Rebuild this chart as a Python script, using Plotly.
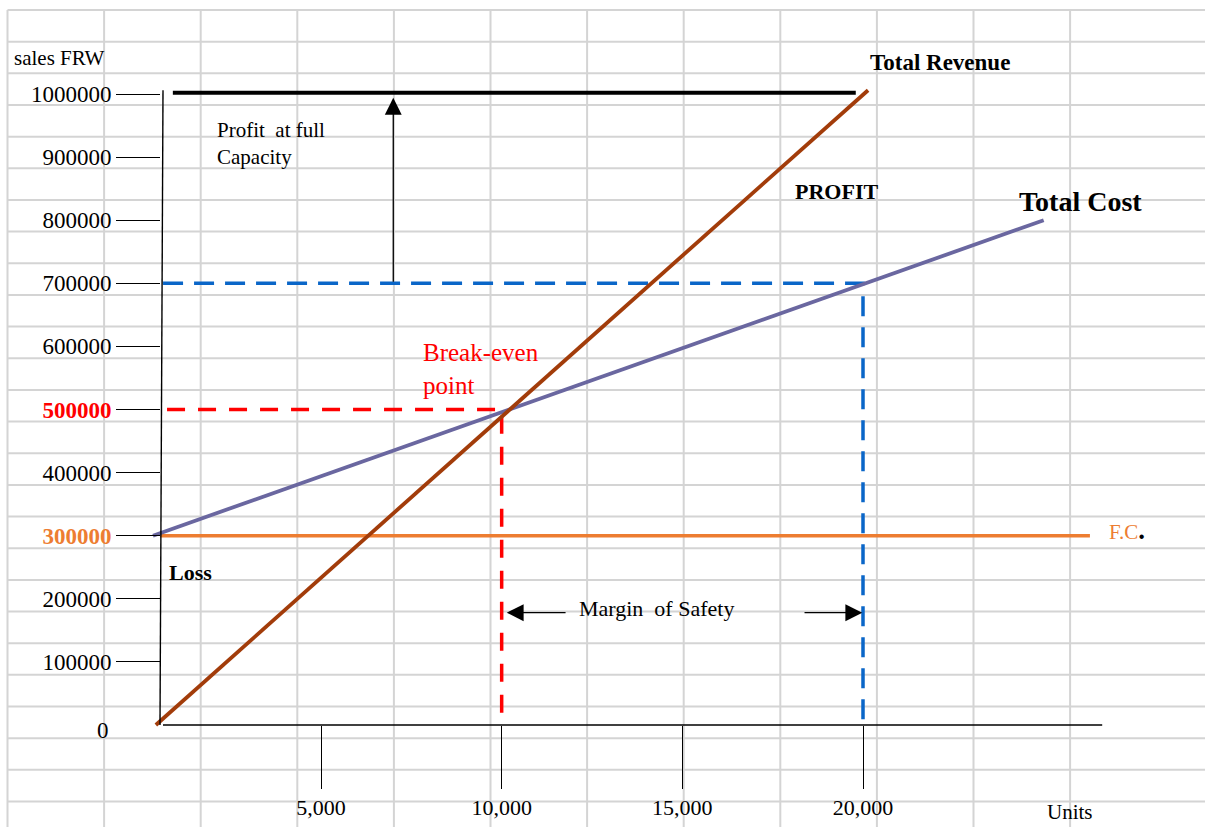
import plotly.graph_objects as go

W, H = 1205, 827
FONT = "Liberation Serif"

# ---- break-even data (units sold vs. FRW) ----
revenue_units = [430, 20140]
revenue_frw = [0, 1006000]

cost_units = [350, 25000]
cost_frw = [300000, 800000]

fixed_units = [549, 26280]
fixed_frw = [300000, 300000]

capacity_units = [900, 19800]
capacity_frw = [1002000, 1002000]

breakeven_units = 10000
breakeven_frw = 500000
full_units = 20000
full_cost_frw = 700000

profit_arrow_units = 7000
safety_arrow_frw = 178000

# ---- axis ticks ----
y_ticks = [100000, 200000, 300000, 400000, 500000, 600000, 700000, 800000, 900000, 1000000]
y_tick_text = ["100000", "200000",
               "<b><span style='color:#ED7D31'>300000</span></b>",
               "400000",
               "<b><span style='color:#FF0000'>500000</span></b>",
               "600000", "700000", "800000", "900000", "1000000"]
x_ticks = [5000, 10000, 15000, 20000]
x_tick_text = ["5,000", "10,000", "15,000", "20,000"]

# scale: 5,000 units per 180.7 px, 100000 FRW per 63.1 px
X_PER_UNIT = (863 - 321) / 15000
X0_PX = 321 - 5000 * X_PER_UNIT
Y_PER_FRW = (725 - 94) / 1e6
Y0_PX = 725
x_range = [-X0_PX / X_PER_UNIT, (W - X0_PX) / X_PER_UNIT]
y_range = [-(H - Y0_PX) / Y_PER_FRW, Y0_PX / Y_PER_FRW]

YAXIS_PX = 160
axis_left_units = 549
axis_end_units = 26620
axis_top_frw = 1006000

fig = go.Figure()

# spreadsheet cell grid in the background
shapes = []
col_w, row_h = 96.6, 31.66
for k in range(12):
    xp = (7.5 + k * col_w) / W
    shapes.append(dict(type="line", xref="paper", yref="paper", x0=xp, x1=xp,
                       y0=0, y1=1 - 10 / H, line=dict(color="#D4D4D4", width=2), layer="below"))
for k in range(26):
    yp = 1 - (10 + k * row_h) / H
    shapes.append(dict(type="line", xref="paper", yref="paper", x0=7.5 / W, x1=1,
                       y0=yp, y1=yp, line=dict(color="#D4D4D4", width=2), layer="below"))

# drawn axis lines
shapes.append(dict(type="line", xref="paper", yref="y", x0=YAXIS_PX / W, x1=(YAXIS_PX + 3) / W,
                   y0=0, y1=axis_top_frw, line=dict(color="black", width=1.4)))
shapes.append(dict(type="line", xref="x", yref="y", x0=(163 - X0_PX) / X_PER_UNIT, x1=axis_end_units,
                   y0=0, y1=0, line=dict(color="black", width=1.4)))
fig.update_layout(shapes=shapes)

# guide lines for break-even and full capacity
fig.add_trace(go.Scatter(x=[axis_left_units + 190, breakeven_units, breakeven_units],
                         y=[breakeven_frw, breakeven_frw, 0], mode="lines",
                         line=dict(color="#FF0000", width=3.5, dash="18px,13px")))
fig.add_trace(go.Scatter(x=[axis_left_units + 80, full_units, full_units],
                         y=[full_cost_frw, full_cost_frw, 0], mode="lines",
                         line=dict(color="#0A66C8", width=3.5, dash="20px,11px")))

# fixed cost, total cost, total revenue, full capacity
fig.add_trace(go.Scatter(x=fixed_units, y=fixed_frw, mode="lines",
                         line=dict(color="#ED7D31", width=3.5)))
fig.add_trace(go.Scatter(x=cost_units, y=cost_frw, mode="lines",
                         line=dict(color="#6A67A0", width=3.8)))
fig.add_trace(go.Scatter(x=revenue_units, y=revenue_frw, mode="lines",
                         line=dict(color="#A23C0A", width=3.8)))
fig.add_trace(go.Scatter(x=capacity_units, y=capacity_frw, mode="lines",
                         line=dict(color="black", width=4.2)))

ann = []


def label(text, x, y, size, color="black", xanchor="left", yanchor="middle", align="left", **kw):
    ann.append(dict(text=text, x=x, y=y, xref="x", yref="y", showarrow=False,
                    xanchor=xanchor, yanchor=yanchor, align=align,
                    font=dict(family=FONT, size=size, color=color), **kw))


label("sales FRW", -3551, 1057000, 21)
label("Profit\u00a0 at full<br>Capacity", 2062, 921500, 21)
label("<b>PROFIT</b>", 18050, 844700, 22)
label("<b>Total Revenue</b>", 20140, 1050700, 23)
label("<b>Total Cost</b>", 24263, 830400, 28)
label("Break-even<br>point", 7768, 564200, 25, color="#FF0000")
label("<b>Loss</b>", 739, 240900, 22)
label("Margin\u00a0 of Safety", 12085, 185400, 22)
label("F.C<span style='color:black;font-size:27px'><b>.</b></span>", 26754, 309000, 21, color="#ED7D31")
label("Units", 25730, -137900, 21, xanchor="center")
ann.append(dict(text="0", x=111 / W, y=-8000, xref="paper", yref="y", showarrow=False,
                xanchor="right", yanchor="middle", font=dict(family=FONT, size=23, color="black")))

# arrows
arrow = dict(xref="x", yref="y", axref="x", ayref="y", showarrow=True, text="",
             arrowhead=2, arrowsize=2.6, arrowwidth=1.3, arrowcolor="black")
ann.append(dict(arrow, x=profit_arrow_units, y=capacity_frw[0] - 8000,
                ax=profit_arrow_units, ay=full_cost_frw))
ann.append(dict(arrow, x=breakeven_units + 140, y=safety_arrow_frw,
                ax=breakeven_units + 1810, ay=safety_arrow_frw))
ann.append(dict(arrow, x=full_units - 20, y=safety_arrow_frw,
                ax=full_units - 1660, ay=safety_arrow_frw))

fig.update_layout(
    width=W, height=H, margin=dict(l=0, r=0, t=0, b=0),
    paper_bgcolor="white", plot_bgcolor="white", showlegend=False,
    font=dict(family=FONT, color="black"),
    annotations=ann,
    xaxis=dict(range=x_range, domain=[0, 1], anchor="free", position=(H - Y0_PX) / H,
               showgrid=False, zeroline=False, showline=False,
               tickmode="array", tickvals=x_ticks, ticktext=x_tick_text,
               ticks="outside", ticklen=63, tickwidth=1.3, tickcolor="black",
               tickfont=dict(family=FONT, size=22, color="black")),
    yaxis=dict(range=y_range, domain=[0, 1], anchor="free", position=YAXIS_PX / W,
               showgrid=False, zeroline=False, showline=False,
               tickmode="array", tickvals=y_ticks, ticktext=y_tick_text,
               ticks="outside", ticklen=44, tickwidth=1.3, tickcolor="black",
               tickfont=dict(family=FONT, size=23, color="black")),
)

fig.write_html("out.html")
